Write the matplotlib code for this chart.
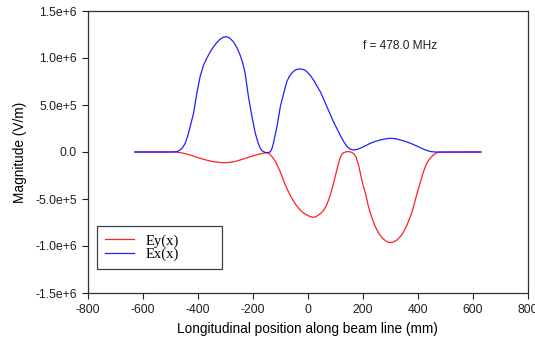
import matplotlib
matplotlib.use("Agg")
import matplotlib.pyplot as plt
import numpy as np

plt.rcParams['font.family'] = ['Liberation Sans', 'DejaVu Sans']
plt.rcParams['axes.unicode_minus'] = False

# Ex(x) (blue), values in units of 1e6 V/m
ex_x = [-630, -500, -484, -475, -465, -455, -446, -437, -428, -416, -404, -392, -380, -367,
        -355, -343, -331, -319, -308, -297, -285, -270, -258, -246, -237, -228, -216, -203,
        -191, -181, -173, -165, -155, -145, -137, -131, -125, -112, -100, -88, -76, -67, -58,
        -48, -39, -24, -12, -3, 9, 21, 46, 70, 94, 118, 131, 143, 155, 167, 179, 191, 210,
        228, 246, 264, 283, 301, 319, 337, 356, 374, 392, 410, 425, 440, 452, 465, 630]
ex_y = [0, 0, 0.002, 0.005, 0.02, 0.05, 0.093, 0.17, 0.27, 0.41, 0.62, 0.80, 0.92, 1.0,
        1.065, 1.12, 1.165, 1.20, 1.22, 1.227, 1.215, 1.17, 1.11, 1.03, 0.95, 0.84, 0.59, 0.375,
        0.2, 0.1, 0.04, 0.01, -0.005, -0.006, 0.0, 0.03, 0.093, 0.27, 0.48, 0.62, 0.75, 0.805,
        0.84, 0.867, 0.88, 0.883, 0.873, 0.854, 0.815, 0.766, 0.64, 0.48, 0.32, 0.18, 0.11,
        0.056, 0.03, 0.021, 0.027, 0.04, 0.066, 0.093, 0.113, 0.128, 0.14, 0.146, 0.142, 0.128,
        0.112, 0.093, 0.07, 0.046, 0.026, 0.01, 0.003, 0, 0]

# Ey(x) (red), values in units of 1e6 V/m
ey_x = [-630, -490, -478, -465, -446, -428, -410, -392, -374, -355, -334, -313, -298, -282,
        -264, -246, -228, -210, -192, -173, -160, -149, -140, -130, -118, -109, -100, -82,
        -64, -46, -27, -15, -3, 8, 19, 29, 39, 48, 58, 67, 76, 85, 94, 100, 106, 112, 118, 124,
        130, 140, 150, 160, 168, 176, 185, 191, 197, 203, 210, 221, 234, 243, 252, 261, 270,
        283, 298, 311, 325, 343, 361, 380, 398, 407, 416, 422, 428, 437, 446, 455, 465, 477, 630]
ey_y = [0, 0, -0.002, -0.006, -0.018, -0.032, -0.05, -0.067, -0.082, -0.096, -0.107, -0.113,
        -0.114, -0.11, -0.1, -0.085, -0.068, -0.05, -0.035, -0.021, -0.012, -0.008, -0.018,
        -0.05, -0.10, -0.155, -0.21, -0.35, -0.46, -0.55, -0.62, -0.65, -0.67, -0.686, -0.695,
        -0.69, -0.67, -0.65, -0.62, -0.575, -0.51, -0.43, -0.33, -0.26, -0.19, -0.12, -0.06,
        -0.025, -0.008, 0.002, 0.004, -0.003, -0.02, -0.055, -0.14, -0.22, -0.30, -0.37, -0.44,
        -0.58, -0.705, -0.775, -0.83, -0.875, -0.91, -0.945, -0.965, -0.958, -0.936, -0.88,
        -0.78, -0.635, -0.44, -0.35, -0.26, -0.205, -0.156, -0.1, -0.067, -0.038, -0.014,
        -0.002, 0]

scale = 1e6
xticks = [-800, -600, -400, -200, 0, 200, 400, 600, 800]
yticks = [1.5e6, 1.0e6, 5.0e5, 0.0, -5.0e5, -1.0e6, -1.5e6]
ytick_labels = ["1.5e+6", "1.0e+6", "5.0e+5", "0.0", "-5.0e+5", "-1.0e+6", "-1.5e+6"]
legend_labels = ["Ey(x)", "Ex(x)"]
annotation = "f = 478.0 MHz"

fig = plt.figure(figsize=(5.35, 3.44), dpi=100)
ax = fig.add_axes([88/535, 1-293/344, (527.5-88)/535, (293-11)/344])

l_ey, = ax.plot(ey_x, np.array(ey_y)*scale, color='#ff2020', lw=0.9)
l_ex, = ax.plot(ex_x, np.array(ex_y)*scale, color='#2020ff', lw=0.9)

ax.set_xlim(-800, 800)
ax.set_ylim(-1.5e6, 1.5e6)
ax.set_xticks(xticks)
ax.set_xticklabels([str(t) for t in xticks])
ax.set_yticks(yticks)
ax.set_yticklabels(ytick_labels)
ax.tick_params(direction='out', length=4, width=0.8, labelsize=8.8, colors='#202020', pad=4)
ax.tick_params(top=False, right=False)
for s in ax.spines.values():
    s.set_linewidth(0.9)
    s.set_color('#303030')

ax.set_xlabel("Longitudinal position along beam line (mm)", fontsize=9.8, labelpad=4)
ax.set_ylabel("Magnitude (V/m)", fontsize=9.8, labelpad=6)

ax.text(201, 1.13e6, annotation, fontsize=8.6, ha='left', va='center', color='#202020')

leg = ax.legend([l_ey, l_ex], legend_labels, loc='lower left',
                bbox_to_anchor=(0.0205, 0.085, 0.284, 0.149), mode='expand',
                borderaxespad=0, fancybox=False, framealpha=1, edgecolor='#404040',
                prop={'family': 'Liberation Serif', 'size': 10.5},
                handlelength=2.0, handletextpad=0.8, borderpad=0.55, labelspacing=0.0)
leg.get_frame().set_linewidth(0.9)

fig.savefig("out.png", dpi=100)
